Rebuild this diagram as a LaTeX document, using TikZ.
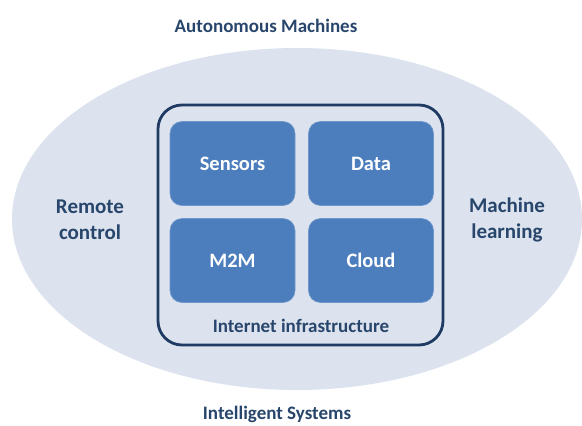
\documentclass[tikz,border=0pt]{standalone}
\usepackage{fontspec}
\setmainfont{Carlito}
\usetikzlibrary{shapes.geometric}
\definecolor{ellfill}{HTML}{DCE3EF}
\definecolor{navy}{HTML}{1F3B63}
\definecolor{txtnavy}{HTML}{28466C}
\definecolor{tile}{HTML}{4C7DBC}
\tikzset{
  tilebox/.style={rectangle, rounded corners=12pt, fill=tile, draw=tile!80!white, line width=0.6pt,
    minimum width=125pt, minimum height=84pt, text=white, font=\bfseries\fontsize{20.5}{24}\selectfont},
  outerlabel/.style={text=txtnavy, font=\bfseries\fontsize{19}{23}\selectfont},
  sidelabel/.style={text=txtnavy, align=center, font=\bfseries\fontsize{21}{26}\selectfont},
}
\begin{document}
\begin{tikzpicture}[x=1pt,y=-1pt]
\useasboundingbox (0,0) rectangle (582,426);
\fill[white] (0,0) rectangle (582,426);
\node[ellipse, fill=ellfill, minimum width=570pt, minimum height=342pt, inner sep=0pt] (ell) at (297,219) {};
\node[rectangle, rounded corners=24pt, draw=navy, line width=2.8pt, fill=ellfill,
  minimum width=285pt, minimum height=240pt] (infra) at (300.5,225) {};
\node[tilebox] (sensors) at (232.5,163.5) {Sensors};
\node[tilebox] (data) at (371,163.5) {Data};
\node[tilebox] (m2m) at (232.5,260.5) {M2M};
\node[tilebox] (cloud) at (371,260.5) {Cloud};
\node[outerlabel, anchor=base] (inet) at (301,332) {Internet infrastructure};
\node[outerlabel, anchor=base] (auto) at (266,32) {Autonomous Machines};
\node[outerlabel, anchor=base] (intel) at (277,419) {Intelligent Systems};
\node[sidelabel] (remote) at (90,220) {Remote\\control};
\node[sidelabel] (ml) at (507,220) {Machine\\learning};
\end{tikzpicture}
\end{document}
